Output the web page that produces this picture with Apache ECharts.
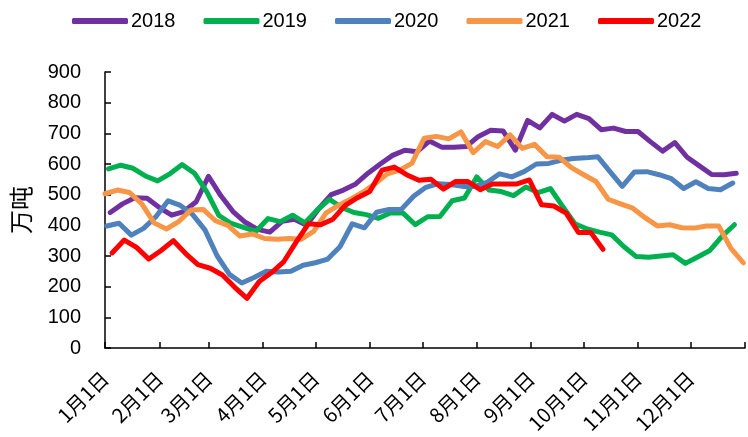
<!DOCTYPE html>
<html>
<head>
<meta charset="utf-8">
<script src="https://cdn.jsdelivr.net/npm/echarts@6/dist/echarts.min.js"></script>
<style>
  html, body { margin: 0; padding: 0; background: #fff; }
  #chart { width: 748px; height: 437px; }
</style>
</head>
<body>
<div id="chart"></div>
<script>
// 各年份及颜色
const years = ["2018", "2019", "2020", "2021", "2022"];
const colors = ["#7030A0", "#00B050", "#4F81BD", "#F79646", "#FF0000"];
// 每年第一期数据所在的日序（1月1日 = 0），之后每周一期
const startDays = [3, 2, 1, 0, 4];

// 周度数据（万吨）
const data2018 = [442, 470, 490, 488, 458, 433, 445, 477, 560, 497, 445, 410, 387, 378, 413, 420, 400,
  455, 500, 515, 535, 570, 600, 628, 645, 640, 675, 655, 655, 657, 690, 710, 708, 645, 742, 718,
  762, 740, 762, 748, 712, 717, 706, 706, 673, 642, 670, 622, 594, 566, 565, 570];
const data2019 = [584, 596, 586, 561, 545, 568, 598, 570, 510, 432, 406, 393, 380, 422, 412, 433, 408,
  450, 485, 458, 442, 435, 423, 441, 440, 402, 428, 429, 480, 489, 558, 515, 510, 497, 525, 507,
  520, 462, 405, 388, 378, 369, 330, 298, 296, 300, 304, 276, 297, 318, 365, 402];
const data2020 = [398, 407, 368, 390, 428, 480, 465, 435, 385, 300, 240, 212, 230, 250, 248, 250, 270,
  278, 290, 330, 405, 392, 443, 452, 452, 495, 524, 536, 533, 527, 527, 540, 568, 558, 575, 600,
  602, 612, 618, 620, 624, 575, 527, 574, 575, 565, 552, 520, 542, 520, 516, 538];
const data2021 = [503, 515, 507, 470, 408, 388, 412, 450, 452, 415, 400, 365, 372, 357, 355, 357, 355,
  380, 440, 465, 485, 508, 535, 568, 580, 602, 684, 690, 682, 705, 637, 673, 657, 695, 651, 664,
  624, 622, 588, 565, 543, 485, 470, 456, 425, 398, 402, 392, 391, 398, 398, 325, 278];
const data2022 = [310, 352, 328, 290, 318, 350, 308, 272, 260, 238, 198, 162, 217, 246, 282, 345, 405,
  402, 420, 465, 490, 510, 580, 590, 565, 547, 550, 518, 543, 543, 516, 535, 535, 535, 548, 467,
  463, 440, 377, 377, 322];
const allData = [data2018, data2019, data2020, data2021, data2022];

// 每月1日的日序
const monthStarts = [0, 31, 59, 90, 120, 151, 181, 212, 243, 273, 304, 334];
const yearEnd = 365;

const chart = echarts.init(document.getElementById("chart"));

const baseFont = "'Liberation Sans', 'Noto Sans CJK SC', sans-serif";

const option = {
  animation: false,
  textStyle: { fontFamily: baseFont },
  legend: {
    data: years,
    top: 6,
    left: 67,
    itemWidth: 56,
    itemHeight: 6,
    itemGap: 28,
    icon: "roundRect",
    textStyle: { fontSize: 20, color: "#000", padding: [0, 0, 0, -2] },
  },
  grid: {
    left: 105,
    right: 3,
    top: 72,
    bottom: 89,
  },
  xAxis: {
    type: "value",
    min: 0,
    max: yearEnd,
    axisLine: { lineStyle: { color: "#000", width: 1.5 } },
    axisTick: {
      inside: true,
      length: 6,
      customValues: monthStarts.concat([yearEnd]),
      lineStyle: { color: "#000", width: 1.5 },
    },
    axisLabel: {
      customValues: monthStarts,
      rotate: 45,
      margin: 27,
      fontSize: 20,
      color: "#000",
      fontFamily: "'Noto Sans CJK SC', sans-serif",
      formatter: (v) => monthStarts.indexOf(v) + 1 + "月1日",
    },
    splitLine: { show: false },
  },
  yAxis: {
    type: "value",
    min: 0,
    max: 900,
    interval: 100,
    name: "万吨",
    nameLocation: "middle",
    nameGap: 72,
    nameTextStyle: { fontSize: 24, color: "#000", fontFamily: "'Noto Sans CJK SC', sans-serif" },
    axisLine: { show: true, lineStyle: { color: "#000", width: 1.5 } },
    axisTick: { show: true, inside: true, length: 6, lineStyle: { color: "#000", width: 1.5 } },
    axisLabel: { fontSize: 20, color: "#000", margin: 24 },
    splitLine: { show: false },
  },
  series: years.map((name, k) => ({
    name: name,
    type: "line",
    showSymbol: false,
    symbol: "none",
    color: colors[k],
    lineStyle: { width: 5, color: colors[k], cap: "round", join: "round" },
    data: allData[k].map((v, i) => [startDays[k] + 7 * i, v]),
  })),
};

chart.setOption(option);
</script>
</body>
</html>
